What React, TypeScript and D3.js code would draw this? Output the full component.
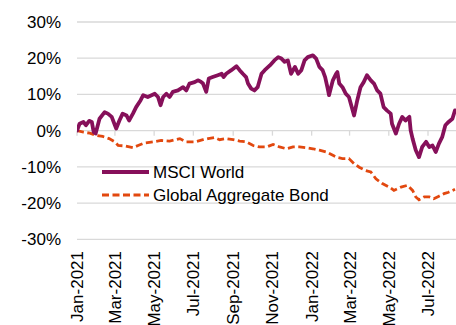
import React from "react";
import * as d3 from "d3";

const msciDates = [
  "2021-01-01","2021-01-05","2021-01-11","2021-01-15","2021-01-20","2021-01-24","2021-01-27","2021-01-30",
  "2021-02-05","2021-02-13","2021-02-18","2021-02-24","2021-03-01","2021-03-03","2021-03-08","2021-03-13",
  "2021-03-19","2021-03-23","2021-03-29","2021-04-03","2021-04-10","2021-04-14","2021-04-21","2021-04-27",
  "2021-05-02","2021-05-07","2021-05-11","2021-05-15","2021-05-20","2021-05-25","2021-05-30","2021-06-07",
  "2021-06-15","2021-06-20","2021-06-25","2021-07-03","2021-07-08","2021-07-12","2021-07-16","2021-07-21",
  "2021-07-25","2021-07-31","2021-08-08","2021-08-14","2021-08-17","2021-08-21","2021-08-29","2021-09-06",
  "2021-09-11","2021-09-16","2021-09-21","2021-09-24","2021-09-29","2021-10-04","2021-10-09","2021-10-15",
  "2021-10-20","2021-10-28","2021-11-04","2021-11-10","2021-11-15","2021-11-20","2021-11-25","2021-11-30",
  "2021-12-06","2021-12-11","2021-12-16","2021-12-21","2021-12-26","2022-01-03","2022-01-08","2022-01-13",
  "2022-01-18","2022-01-22","2022-01-26","2022-01-28","2022-02-03","2022-02-08","2022-02-10","2022-02-13",
  "2022-02-18","2022-02-23","2022-02-28","2022-03-05","2022-03-08","2022-03-13","2022-03-18","2022-03-23",
  "2022-03-28","2022-04-03","2022-04-08","2022-04-13","2022-04-18","2022-04-23","2022-04-28","2022-05-04",
  "2022-05-06","2022-05-12","2022-05-17","2022-05-22","2022-05-27","2022-06-02","2022-06-04","2022-06-07",
  "2022-06-12","2022-06-17","2022-06-22","2022-06-28","2022-07-03","2022-07-08","2022-07-13","2022-07-18",
  "2022-07-23","2022-07-28","2022-08-02","2022-08-08","2022-08-12"
];
const msciValues = [
  0.0, 1.9, 2.4, 1.5, 2.7, 2.4, -0.4, -0.8,
  3.3, 5.1, 4.7, 3.8, 1.5, 0.6, 2.8, 4.7,
  4.2, 2.8, 4.7, 6.5, 8.4, 9.8, 9.3, 9.8,
  10.2, 9.3, 7.0, 9.3, 10.2, 9.3, 10.7, 11.1,
  12.0, 11.1, 13.0, 13.4, 13.9, 13.6, 13.0, 10.7,
  14.4, 14.8, 15.3, 15.7, 14.8, 15.7, 16.7, 17.8,
  16.7, 15.7, 14.8, 13.0, 11.6, 11.1, 12.0, 15.7,
  16.7, 18.0, 19.4, 20.3, 19.9, 19.0, 19.4, 15.7,
  17.6, 15.7, 16.7, 19.4, 20.3, 20.8, 19.9, 17.6,
  16.7, 14.8, 11.6, 9.8, 13.9, 15.7, 16.2, 13.0,
  12.0, 10.2, 9.3, 6.1, 4.2, 8.4, 12.0, 13.4,
  15.3, 13.9, 13.0, 11.1, 10.2, 6.5, 5.6, 4.7,
  1.9, -0.8, 1.9, 3.8, 2.8, 3.8, 0.1, -2.2,
  -5.4, -7.3, -4.5, -3.1, -4.5, -4.1, -5.9, -3.6,
  -1.8, 1.5, 2.4, 3.3, 5.6
];

const bondDates = [
  "2021-01-01","2021-01-11","2021-01-21","2021-01-31","2021-02-10","2021-02-20","2021-03-01","2021-03-06",
  "2021-03-16","2021-03-29","2021-04-06","2021-04-16","2021-04-29","2021-05-12","2021-05-25","2021-06-10",
  "2021-06-20","2021-07-03","2021-07-16","2021-07-24","2021-08-03","2021-08-11","2021-08-21","2021-09-01",
  "2021-09-11","2021-09-21","2021-10-02","2021-10-12","2021-10-23","2021-11-02","2021-11-12","2021-11-23",
  "2021-12-03","2021-12-13","2021-12-24","2022-01-03","2022-01-13","2022-01-24","2022-02-03","2022-02-10",
  "2022-02-18","2022-02-28","2022-03-08","2022-03-16","2022-03-26","2022-04-03","2022-04-11","2022-04-21",
  "2022-05-02","2022-05-09","2022-05-20","2022-05-30","2022-06-07","2022-06-12","2022-06-17","2022-06-25",
  "2022-07-03","2022-07-10","2022-07-18","2022-07-26","2022-08-02","2022-08-12"
];
const bondValues = [
  0.0, -0.4, -0.7, -1.3, -1.6, -2.2, -3.1, -4.1,
  -4.2, -4.7, -4.1, -3.4, -3.1, -2.7, -2.9, -2.2,
  -3.1, -3.1, -2.5, -2.2, -1.9, -2.5, -2.2, -2.5,
  -2.9, -3.1, -4.1, -4.5, -4.5, -3.8, -4.5, -5.0,
  -4.5, -4.5, -4.7, -5.0, -5.4, -5.9, -6.8, -7.4,
  -7.7, -7.7, -9.1, -10.1, -11.0, -11.4, -13.3, -14.6,
  -15.6, -16.5, -15.6, -15.1, -16.5, -18.3, -19.1, -18.3,
  -18.3, -18.8, -18.1, -17.4, -17.0, -16.2
];

const yTicks = [30, 20, 10, 0, -10, -20, -30];
const xTickLabels = [
  "Jan-2021","Mar-2021","May-2021","Jul-2021","Sep-2021",
  "Nov-2021","Jan-2022","Mar-2022","May-2022","Jul-2022"
];
const xTickDates = [
  "2021-01-01","2021-03-01","2021-05-01","2021-07-01","2021-09-01",
  "2021-11-01","2022-01-01","2022-03-01","2022-05-01","2022-07-01"
];
const seriesNames = ["MSCI World", "Global Aggregate Bond"];

const parse = (s: string) => {
  const [y, m, d] = s.split("-").map(Number);
  return new Date(y, m - 1, d);
};

export default function App() {
  const W = 456, H = 325;
  const left = 77, right = 456;
  const x = d3.scaleTime().domain([parse("2021-01-01"), parse("2022-07-01")]).range([77, 428]);
  const y = d3.scaleLinear().domain([-30, 30]).range([239.3, 22]);

  const line = d3.line<[Date, number]>().x(d => x(d[0])).y(d => y(d[1]));
  const msci: [Date, number][] = msciDates.map((d, i) => [parse(d), msciValues[i]]);
  const bond: [Date, number][] = bondDates.map((d, i) => [parse(d), bondValues[i]]);

  const font = "'Liberation Sans', Arial, sans-serif";
  const msciColor = "#86105A";
  const bondColor = "#E2480F";

  return (
    <svg width={W} height={H} style={{ position: "fixed", left: 0, top: 0, background: "#fff" }} fontFamily={font}>
      <defs>
        <clipPath id="plot">
          <rect x={left} y={0} width={right - left} height={H} />
        </clipPath>
      </defs>
      {yTicks.map(t => (
        <g key={t}>
          <line x1={left} x2={right} y1={y(t)} y2={y(t)} stroke="#D9D9D9" strokeWidth={1.3} />
          <text x={61} y={y(t)} dy="0.35em" textAnchor="end" fontSize={17} fill="#000">{t}%</text>
        </g>
      ))}
      {xTickDates.map((d, i) => (
        <g key={d}>
          <line x1={x(parse(d))} x2={x(parse(d))} y1={y(0)} y2={y(0) + 5} stroke="#D9D9D9" strokeWidth={1.3} />
          <text
            transform={`translate(${x(parse(d))},251) rotate(-90)`}
            textAnchor="end"
            dy="0.35em"
            fontSize={17}
            fill="#000"
          >{xTickLabels[i]}</text>
        </g>
      ))}
      <g clipPath="url(#plot)">
        <path d={line(bond) || ""} fill="none" stroke={bondColor} strokeWidth={2.8} strokeDasharray="7,3.5" />
        <path d={line(msci) || ""} fill="none" stroke={msciColor} strokeWidth={3.8} strokeLinejoin="round" strokeLinecap="round" />
      </g>
      <line x1={102} x2={149} y1={172} y2={172} stroke={msciColor} strokeWidth={3.8} />
      <text x={153} y={172} dy="0.35em" fontSize={17} fill="#000">{seriesNames[0]}</text>
      <line x1={102} x2={149} y1={195} y2={195} stroke={bondColor} strokeWidth={2.8} strokeDasharray="7,3.5" />
      <text x={153} y={195} dy="0.35em" fontSize={17} fill="#000">{seriesNames[1]}</text>
    </svg>
  );
}
